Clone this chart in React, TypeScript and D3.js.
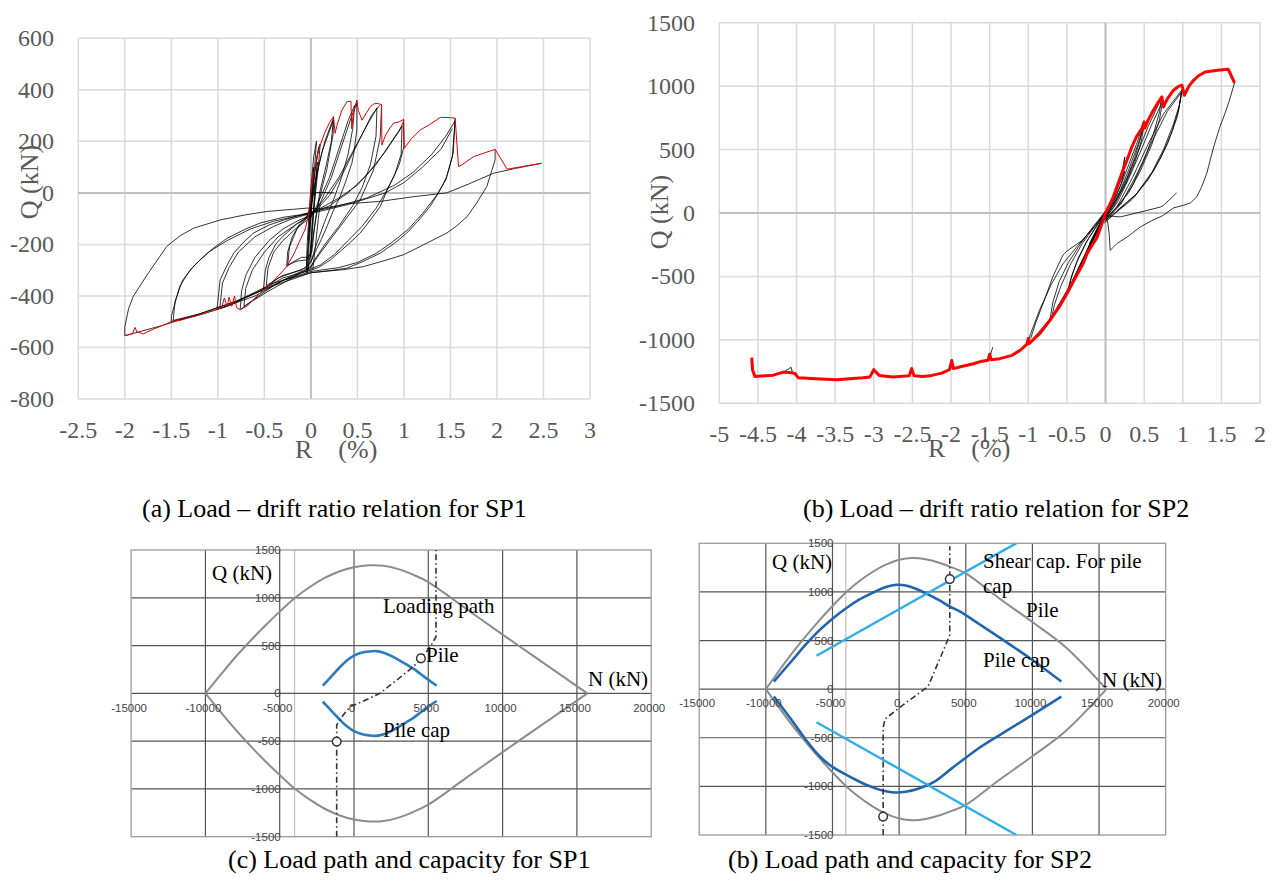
import React from 'react';
import * as d3 from 'd3';

type P = [number, number];

// ================= (a) SP1 load - drift ratio: [R (%), Q (kN)] =================
const sp1XTicks = [-2.5, -2, -1.5, -1, -0.5, 0, 0.5, 1, 1.5, 2, 2.5, 3];
const sp1YTicks = [-800, -600, -400, -200, 0, 200, 400, 600];

const sp1RedPos: P[] = [[0,0],[0.02,50],[0.05,110],[0.08,160],[0.1,185],[0.15,235],[0.2,272],[0.243,296],[0.26,231],[0.28,262],[0.33,318],[0.387,354],[0.43,356],[0.44,249],[0.455,310],[0.494,360],[0.51,320],[0.55,282],[0.6,312],[0.637,334],[0.68,346],[0.71,347],[0.76,343],[0.763,186],[0.8,222],[0.85,252],[0.888,270],[0.95,276],[0.996,285],[1.003,173],[1.08,210],[1.175,244],[1.28,266],[1.39,293],[1.5,292],[1.55,290],[1.587,102],[1.62,108],[1.75,141],[1.88,157],[1.98,169],[2.11,92],[2.3,104],[2.48,115]];
const sp1RedNeg: P[] = [[0,0],[-0.01,-40],[-0.03,-90],[-0.06,-140],[-0.115,-182],[-0.18,-235],[-0.26,-286],[-0.35,-322],[-0.42,-348],[-0.51,-376],[-0.6,-408],[-0.68,-438],[-0.76,-453],[-0.8,-446],[-0.82,-400],[-0.85,-440],[-0.88,-405],[-0.9,-442],[-0.93,-408],[-0.96,-445],[-1.01,-453],[-1.2,-474],[-1.4,-494],[-1.5,-499],[-1.55,-508],[-1.7,-530],[-1.8,-547],[-1.87,-540],[-1.89,-522],[-1.92,-548],[-2.0,-554]];

const sp1Elastic: P[][] = [
  [[-0.03,-300],[-0.02,-200],[0,-100],[0.02,0],[0.05,100],[0.08,170],[0.1,190]],
  [[0.1,190],[0.08,100],[0.05,0],[0.02,-100],[0,-200],[-0.02,-280],[-0.04,-310]],
  [[-0.04,-310],[-0.03,-220],[-0.01,-120],[0.01,-20],[0.04,80],[0.07,150],[0.09,180]],
  [[0,-250],[0.01,-150],[0.03,-50],[0.05,50],[0.07,120]],
  [[0.07,120],[0.05,20],[0.03,-80],[0.01,-180],[-0.01,-260]],
  [[-0.02,-150],[0,-50],[0.02,50],[0.03,100]],
  [[0.03,100],[0.01,0],[-0.01,-100],[-0.03,-180]],
  [[-0.05,-310],[-0.04,-200],[-0.02,-80],[0,20],[0.03,140],[0.06,200]],
  [[0.06,200],[0.04,100],[0.01,-20],[-0.02,-150],[-0.05,-300]],
  [[0,0],[0.1,2],[0.25,0]],
  [[0.02,-300],[0.05,-200],[0.08,-100],[0.1,-40]],
];
const sp1Cycles: P[][] = [
  [[0.243,296],[0.24,230],[0.2,150],[0.17,89],[0.12,20],[0.082,-40],[0.04,-130],[0.01,-200],[0,-233],[-0.03,-250],[-0.1,-250],[-0.2,-270],[-0.26,-286]],
  [[-0.26,-286],[-0.25,-230],[-0.2,-170],[-0.12,-120],[-0.05,-95],[0,-60],[0.03,0],[0.08,100],[0.15,200],[0.243,290]],
  [[0.24,280],[0.22,200],[0.16,100],[0.1,10],[0.05,-100],[0.01,-230],[-0.05,-260],[-0.15,-265],[-0.25,-280]],
  [[-0.25,-280],[-0.23,-210],[-0.15,-140],[-0.05,-100],[0,-50],[0.05,50],[0.12,160],[0.24,280]],
  [[0.494,360],[0.494,244],[0.46,150],[0.44,115],[0.38,50],[0.314,-14],[0.24,-70],[0.172,-131],[0.1,-190],[0.03,-240],[0.01,-260],[-0.05,-290],[-0.2,-310],[-0.35,-330],[-0.51,-376]],
  [[-0.51,-376],[-0.49,-300],[-0.45,-250],[-0.38,-200],[-0.3,-168],[-0.15,-120],[-0.05,-95],[0,-85],[0.05,-60],[0.1,-20],[0.2,60],[0.3,170],[0.4,280],[0.47,340]],
  [[0.47,340],[0.45,250],[0.4,150],[0.33,60],[0.25,-20],[0.15,-110],[0.05,-210],[0,-270],[-0.1,-300],[-0.3,-320],[-0.48,-360]],
  [[-0.48,-360],[-0.46,-290],[-0.4,-230],[-0.3,-185],[-0.15,-135],[0,-95],[0.1,-40],[0.22,60],[0.32,170],[0.44,300],[0.5,350]],
  [[0.76,343],[0.745,215],[0.673,89],[0.6,30],[0.53,-27],[0.42,-80],[0.314,-131],[0.2,-185],[0.1,-234],[0.03,-270],[0,-290],[-0.2,-320],[-0.4,-360],[-0.6,-410],[-0.76,-453]],
  [[-0.76,-453],[-0.745,-380],[-0.7,-320],[-0.6,-250],[-0.45,-185],[-0.3,-140],[-0.15,-110],[0,-85],[0.15,-20],[0.3,60],[0.45,160],[0.6,260],[0.71,330]],
  [[0.71,330],[0.7,220],[0.64,110],[0.55,20],[0.45,-50],[0.3,-130],[0.15,-200],[0.04,-260],[0,-285],[-0.2,-330],[-0.45,-380],[-0.72,-440]],
  [[-0.72,-440],[-0.7,-370],[-0.63,-300],[-0.5,-230],[-0.35,-170],[-0.15,-120],[0,-90],[0.2,-10],[0.35,80],[0.5,190],[0.65,300],[0.74,340]],
  [[0.996,285],[1.0,180],[0.95,110],[0.89,63],[0.82,10],[0.745,-53],[0.64,-105],[0.53,-156],[0.4,-200],[0.21,-260],[0.08,-290],[0,-300],[-0.3,-330],[-0.6,-390],[-0.85,-430],[-1.01,-453]],
  [[-1.01,-453],[-0.975,-337],[-0.9,-280],[-0.83,-234],[-0.72,-190],[-0.617,-156],[-0.45,-125],[-0.29,-105],[-0.15,-90],[-0.04,-80],[0.1,-60],[0.3,-20],[0.5,30],[0.7,110],[0.85,190],[0.98,260]],
  [[0.98,260],[0.97,150],[0.9,70],[0.8,0],[0.7,-60],[0.55,-130],[0.4,-185],[0.25,-240],[0.1,-280],[0,-295],[-0.3,-340],[-0.6,-400],[-0.98,-450]],
  [[-0.98,-450],[-0.95,-350],[-0.88,-290],[-0.78,-230],[-0.6,-170],[-0.4,-130],[-0.2,-100],[0,-80],[0.2,-50],[0.4,0],[0.6,70],[0.8,160],[0.95,240],[1.0,280]],
  [[1.55,290],[1.53,154],[1.46,63],[1.38,5],[1.28,-53],[1.15,-110],[1.03,-156],[0.9,-195],[0.745,-234],[0.55,-268],[0.387,-292],[0.2,-302],[0,-310],[-0.3,-340],[-0.6,-390],[-0.9,-440],[-1.2,-474],[-1.5,-499]],
  [[-1.5,-499],[-1.5,-479],[-1.41,-363],[-1.3,-300],[-1.19,-260],[-1.05,-215],[-0.9,-176],[-0.7,-140],[-0.545,-117],[-0.3,-95],[-0.115,-85],[0,-75],[0.3,-50],[0.6,-20],[0.9,30],[1.1,80],[1.3,150],[1.45,220],[1.55,280]],
  [[1.55,280],[1.52,140],[1.45,50],[1.35,-10],[1.2,-80],[1.05,-140],[0.88,-190],[0.7,-235],[0.5,-270],[0.3,-290],[0,-305],[-0.4,-350],[-0.8,-420],[-1.2,-470],[-1.48,-495]],
  [[-1.48,-495],[-1.46,-420],[-1.38,-340],[-1.25,-280],[-1.1,-230],[-0.9,-185],[-0.65,-140],[-0.4,-110],[-0.15,-90],[0,-80],[0.4,-45],[0.8,0],[1.0,40],[1.2,100],[1.4,170],[1.52,250]],
  [[1.98,169],[1.98,128],[1.89,24],[1.78,-40],[1.68,-92],[1.56,-130],[1.46,-156],[1.3,-185],[1.175,-208],[0.996,-240],[0.8,-262],[0.566,-286],[0.35,-298],[0.135,-305],[0,-310],[-0.4,-360],[-0.8,-420],[-1.2,-470],[-1.6,-515],[-2.0,-554]],
  [[-2.0,-554],[-2.0,-520],[-1.96,-450],[-1.91,-402],[-1.76,-318],[-1.55,-208],[-1.4,-165],[-1.26,-137],[-0.975,-105],[-0.7,-85],[-0.47,-72],[-0.2,-64],[-0.04,-59],[0.1,-62],[0.4,-42],[0.745,-33],[1.1,-15],[1.46,0],[1.7,35],[1.96,76],[2.2,95],[2.48,115]],
];

// ================= (b) SP2 load - drift ratio =================
const sp2XTicks = [-5, -4.5, -4, -3.5, -3, -2.5, -2, -1.5, -1, -0.5, 0, 0.5, 1, 1.5, 2];
const sp2YTicks = [-1500, -1000, -500, 0, 500, 1000, 1500];

const sp2RedPos: P[] = [[0,0],[0.05,60],[0.1,126],[0.15,210],[0.21,311],[0.28,420],[0.34,520],[0.4,600],[0.47,665],[0.5,718],[0.51,670],[0.55,730],[0.62,810],[0.68,870],[0.73,915],[0.75,836],[0.8,900],[0.88,968],[0.95,1000],[0.99,1007],[1.02,928],[1.08,1000],[1.14,1046],[1.2,1080],[1.29,1112],[1.45,1125],[1.59,1133],[1.67,1025]];
const sp2RedNeg: P[] = [[0,0],[-0.05,-90],[-0.11,-194],[-0.18,-260],[-0.24,-320],[-0.29,-399],[-0.4,-520],[-0.5,-636],[-0.6,-740],[-0.72,-846],[-0.85,-950],[-0.99,-1030],[-1.0,-990],[-1.02,-1035],[-1.1,-1080],[-1.21,-1122],[-1.37,-1148],[-1.48,-1156],[-1.5,-1112],[-1.52,-1160],[-1.6,-1168],[-1.71,-1188],[-1.85,-1208],[-1.97,-1227],[-1.99,-1162],[-2.02,-1235],[-2.12,-1262],[-2.25,-1280],[-2.36,-1288],[-2.48,-1282],[-2.51,-1227],[-2.54,-1282],[-2.75,-1293],[-2.93,-1280],[-3.0,-1235],[-3.05,-1292],[-3.14,-1298],[-3.48,-1314],[-3.75,-1306],[-3.98,-1298],[-4.02,-1265],[-4.06,-1260],[-4.17,-1254],[-4.3,-1278],[-4.54,-1288],[-4.57,-1235],[-4.58,-1140]];

const sp2Cycles: P[][] = [
  [[0,0],[0.05,50],[0.1,120],[0.18,230],[0.25,330]],
  [[0.25,330],[0.2,230],[0.12,120],[0.05,30],[0,-20]],
  [[0.1,100],[0.15,200],[0.22,350],[0.25,442],[0.24,380],[0.2,280],[0.1,100]],
  [[-0.02,-30],[0.1,80],[0.2,220],[0.3,380],[0.4,540],[0.48,680]],
  [[0.48,680],[0.45,580],[0.38,440],[0.28,280],[0.15,120],[0.05,20],[-0.02,-40]],
  [[-0.03,-50],[0.08,40],[0.2,190],[0.3,340],[0.42,540],[0.5,690]],
  [[0.5,690],[0.46,560],[0.38,400],[0.26,230],[0.12,80],[0,-30]],
  [[-0.04,-60],[0.1,40],[0.25,230],[0.4,450],[0.55,680],[0.72,900]],
  [[0.72,900],[0.7,800],[0.62,620],[0.5,420],[0.35,220],[0.2,80],[0.05,-20],[-0.03,-60]],
  [[-0.03,-60],[0.15,80],[0.3,270],[0.45,480],[0.6,700],[0.74,880]],
  [[0.74,880],[0.7,740],[0.6,540],[0.45,330],[0.3,160],[0.12,30],[0,-40]],
  [[-0.05,-80],[0.15,50],[0.35,280],[0.55,540],[0.75,780],[0.9,900],[0.99,970]],
  [[0.99,970],[0.96,860],[0.88,700],[0.75,500],[0.6,320],[0.4,150],[0.2,40],[0,-60]],
  [[0,-60],[0.2,70],[0.4,300],[0.6,560],[0.8,800],[0.98,950]],
  [[0.98,950],[0.95,820],[0.86,640],[0.72,440],[0.55,260],[0.35,110],[0.15,10],[-0.02,-80]],
  [[0.99,960],[0.93,760],[0.8,540],[0.62,330],[0.4,150],[0.15,20]],
  [[0,-20],[0.19,-31],[0.4,0],[0.6,30],[0.71,47],[0.75,60],[0.92,158]],
  [[1.67,1025],[1.6,880],[1.55,790],[1.48,678],[1.4,520],[1.31,311],[1.24,200],[1.18,126],[1.1,80],[1.01,61],[0.88,40],[0.75,-18],[0.6,-60],[0.45,-110],[0.28,-189],[0.15,-240],[0.06,-294],[0.05,-180],[0.03,-80],[0,0]],
  [[0,0],[-0.1,-120],[-0.24,-320]],
  [[-0.24,-320],[-0.2,-230],[-0.1,-110],[0,0]],
  [[0.02,20],[-0.15,-180],[-0.3,-380],[-0.45,-570],[-0.5,-640]],
  [[-0.5,-640],[-0.46,-540],[-0.38,-400],[-0.25,-230],[-0.1,-90],[0.02,10]],
  [[0.02,10],[-0.12,-170],[-0.28,-370],[-0.42,-540],[-0.48,-620]],
  [[-0.48,-620],[-0.44,-500],[-0.35,-350],[-0.22,-200],[-0.08,-70],[0.03,20]],
  [[0.03,20],[-0.15,-200],[-0.35,-450],[-0.55,-680],[-0.7,-830]],
  [[-0.7,-830],[-0.66,-720],[-0.58,-580],[-0.45,-400],[-0.3,-240],[-0.12,-90],[0.03,30]],
  [[0.03,30],[-0.2,-240],[-0.4,-500],[-0.6,-740],[-0.72,-840]],
  [[-0.72,-840],[-0.68,-700],[-0.6,-540],[-0.48,-390],[-0.32,-240],[-0.15,-100],[0.02,30]],
  [[0.04,40],[-0.2,-250],[-0.45,-560],[-0.7,-820],[-0.95,-1000]],
  [[-0.97,-990],[-0.9,-860],[-0.8,-700],[-0.68,-500],[-0.55,-330],[-0.5,-300],[-0.3,-215],[-0.12,-90],[0.02,30]],
  [[-1.0,-1000],[-0.95,-920],[-0.85,-760],[-0.7,-560],[-0.55,-400],[-0.35,-250],[-0.15,-110],[0.03,20]],
  [[-1.5,-1150],[-1.48,-1100],[-1.46,-1057]],
  [[-4.17,-1254],[-4.07,-1216],[-4.05,-1262]],
];

// ================= (c)/(d) N-Q capacity: [N (kN), Q (kN)] =================
const nTicks = [-15000, -10000, -5000, 0, 5000, 10000, 15000, 20000];
const qTicks = [-1500, -1000, -500, 0, 500, 1000, 1500];

const cEnvN = [-10000,-9000,-8000,-7000,-6000,-5000,-4000,-3000,-2000,-1000,0,1000,2000,3000,4000,5000,7500,10000,12500,15700];
const cEnvQ = [0,190,375,545,705,855,995,1110,1205,1275,1320,1340,1335,1300,1240,1165,890,615,345,0];
const cPileN = [-2100,-1500,-1000,-500,0,500,1000,1500,2000,2500,3000,3500,4000,4500,5000,5560];
const cPileQ = [80,180,265,340,395,425,438,442,425,392,350,305,258,200,142,80];
const cCapQ = [-88,-185,-268,-342,-396,-426,-440,-445,-428,-395,-352,-305,-256,-198,-140,-80];
const cPathN = [-1165,-1165,-1165,-720,-270,500,1750,2870,3990,4500,5100,5520,5520];
const cPathQ = [-1500,-505,-330,-227,-140,-90,0,139,278,366,480,592,1500];
const cMarkN = [-1165, 4500];
const cMarkQ = [-505, 366];

const dEnvN = [-10000,-9000,-8000,-7000,-6000,-5000,-4000,-3000,-2000,-1000,0,1000,2000,3000,4000,5000,7500,10000,12500,15550];
const dEnvQ = [0,190,375,545,705,855,995,1110,1205,1280,1330,1348,1335,1300,1250,1190,935,690,430,0];
const dPileN = [-9400,-8000,-7000,-5950,-5000,-3950,-3000,-2000,-1000,-200,500,1300,2000,3000,3800,4550,6000,7800,10000,12170];
const dPileQ = [78,300,460,610,725,835,920,990,1050,1073,1065,1030,985,915,850,800,670,507,300,78];
const dCapN = [-9400,-8000,-7000,-5950,-5000,-3950,-3000,-2000,-1000,-200,500,1300,2550,4000,6050,7800,10000,12170];
const dCapQ = [-76,-330,-520,-693,-800,-882,-950,-1010,-1050,-1063,-1055,-1030,-960,-810,-600,-450,-265,-76];
const dShearN = [-6200, 8800];
const dShearUpQ = [343, 1502];
const dShearLoQ = [-340, -1500];
const dPathN = [-1200,-1200,-1200,-1070,300,2170,3550,3800,3800,3800];
const dPathQ = [-1500,-1311,-400,-308,-161,27,473,559,1132,1470];
const dMarkN = [3800, -1200];
const dMarkQ = [1132, -1311];

const zip = (a: number[], b: number[]): P[] => a.map((v, i) => [v, b[i]]);

const SERIF = '"Liberation Serif", "Times New Roman", serif';
const SERIF_CJK = '"Liberation Serif", "Noto Sans CJK JP", serif';
const SANS = '"Liberation Sans", Arial, sans-serif';

type Scale = d3.ScaleLinear<number, number>;

function TopPanel(props: {
  xs: Scale; ys: Scale; xTicks: number[]; yTicks: number[];
  black: P[][]; red: P[][]; redColor: string; redWidth: number;
  yLabelRight: number; xLabelBase: number; qPos: P; rPos: P;
}) {
  const { xs, ys, xTicks, yTicks } = props;
  const x0 = xs(xTicks[0]), x1 = xs(xTicks[xTicks.length - 1]);
  const y0 = ys(yTicks[0]), y1 = ys(yTicks[yTicks.length - 1]);
  const line = d3.line<P>().x(d => xs(d[0])).y(d => ys(d[1]));
  return (
    <g>
      {xTicks.map(t => (
        <line key={'vx' + t} x1={xs(t)} x2={xs(t)} y1={y0} y2={y1} stroke="#d9d9d9" strokeWidth={1.5} />
      ))}
      {yTicks.map(t => (
        <line key={'hy' + t} x1={x0} x2={x1} y1={ys(t)} y2={ys(t)} stroke="#d9d9d9" strokeWidth={1.5} />
      ))}
      <line x1={xs(0)} x2={xs(0)} y1={y0} y2={y1} stroke="#bfbfbf" strokeWidth={2} />
      <line x1={x0} x2={x1} y1={ys(0)} y2={ys(0)} stroke="#bfbfbf" strokeWidth={2} />
      {props.black.map((c, i) => (
        <path key={'b' + i} d={line(c) || ''} fill="none" stroke="#000" strokeWidth={0.8} strokeLinejoin="round" />
      ))}
      {props.red.map((c, i) => (
        <path key={'r' + i} d={line(c) || ''} fill="none" stroke={props.redColor} strokeWidth={props.redWidth} strokeLinejoin="round" />
      ))}
      {xTicks.map(t => (
        <text key={'tx' + t} x={xs(t)} y={props.xLabelBase} textAnchor="middle" fontFamily={SERIF} fontSize={24} fill="#595959">{String(t)}</text>
      ))}
      {yTicks.map(t => (
        <text key={'ty' + t} x={props.yLabelRight} y={ys(t) + 8} textAnchor="end" fontFamily={SERIF} fontSize={24} fill="#595959">{String(t)}</text>
      ))}
      <text transform={`translate(${props.qPos[0]},${props.qPos[1]}) rotate(-90)`} textAnchor="middle" fontFamily={SERIF} fontSize={26} fill="#595959">Q (kN)</text>
      <text x={props.rPos[0]} y={props.rPos[1]} fontFamily={SERIF_CJK} fontSize={26} fill="#595959">R　(%)</text>
    </g>
  );
}

function BottomPanel(props: {
  id: string; xs: Scale; ys: Scale; children?: React.ReactNode; xLabelBase: number;
}) {
  const { xs, ys } = props;
  const x0 = xs(nTicks[0]), x1 = xs(nTicks[nTicks.length - 1]);
  const y0 = ys(qTicks[0]), y1 = ys(qTicks[qTicks.length - 1]);
  return (
    <g>
      <defs>
        <clipPath id={props.id}>
          <rect x={x0} y={y1} width={x1 - x0} height={y0 - y1} />
        </clipPath>
      </defs>
      <line x1={xs(-4000)} x2={xs(-4000)} y1={y0} y2={y1} stroke="#c4c4c4" strokeWidth={1.3} />
      {nTicks.slice(1, -1).map(t => (
        <line key={'vx' + t} x1={xs(t)} x2={xs(t)} y1={y0} y2={y1} stroke="#555" strokeWidth={1.2} />
      ))}
      {qTicks.slice(1, -1).map(t => (
        <line key={'hy' + t} x1={x0} x2={x1} y1={ys(t)} y2={ys(t)} stroke="#555" strokeWidth={1.2} />
      ))}
      <rect x={x0} y={y1} width={x1 - x0} height={y0 - y1} fill="none" stroke="#9a9a9a" strokeWidth={1.3} />
      <g clipPath={`url(#${props.id})`}>{props.children}</g>
      {nTicks.map(t => (
        <text key={'tx' + t} x={xs(t) - 2} y={props.xLabelBase} textAnchor="middle" fontFamily={SANS} fontSize={11.5} fill="#444">{String(t)}</text>
      ))}
      {qTicks.map(t => (
        <text key={'ty' + t} x={xs(-5000) + 1} y={ys(t) + 4} textAnchor="end" fontFamily={SANS} fontSize={11.5} fill="#444">{String(t)}</text>
      ))}
    </g>
  );
}

export default function App() {
  const xA = d3.scaleLinear().domain([-2.5, 3]).range([78.3, 590]);
  const yA = d3.scaleLinear().domain([-800, 600]).range([399, 38.3]);
  const xB = d3.scaleLinear().domain([-5, 2]).range([719.3, 1260]);
  const yB = d3.scaleLinear().domain([-1500, 1500]).range([403.3, 22.7]);
  const xC = d3.scaleLinear().domain([-15000, 20000]).range([131.1, 651.2]);
  const yC = d3.scaleLinear().domain([-1500, 1500]).range([836.7, 550]);
  const xD = d3.scaleLinear().domain([-15000, 20000]).range([699.2, 1165.7]);
  const yD = d3.scaleLinear().domain([-1500, 1500]).range([835, 543.3]);

  const smooth = (xs: Scale, ys: Scale) =>
    d3.line<P>().x(d => xs(d[0])).y(d => ys(d[1])).curve(d3.curveCatmullRom.alpha(0.5));
  const straight = (xs: Scale, ys: Scale) => d3.line<P>().x(d => xs(d[0])).y(d => ys(d[1]));
  const lc = smooth(xC, yC);
  const ld = smooth(xD, yD);
  const sc = straight(xC, yC);
  const sd = straight(xD, yD);

  const cEnvUp = zip(cEnvN, cEnvQ);
  const cEnvLo = zip(cEnvN, cEnvQ.map(q => -q));
  const dEnvUp = zip(dEnvN, dEnvQ);
  const dEnvLo = zip(dEnvN, dEnvQ.map(q => -q));

  const gray = '#8c8c8c';
  const pathStyle = { fill: 'none', stroke: '#333', strokeWidth: 1.6, strokeDasharray: '6 3 1.5 3' };

  return (
    <svg width={1274} height={880} style={{ position: 'absolute', left: 0, top: 0, background: '#fff' }}>
      <rect x={0} y={0} width={1274} height={880} fill="#fff" />
      <TopPanel xs={xA} ys={yA} xTicks={sp1XTicks} yTicks={sp1YTicks}
        black={[...sp1Elastic, ...sp1Cycles]} red={[sp1RedPos, sp1RedNeg]} redColor="#e00000" redWidth={1}
        yLabelRight={54} xLabelBase={438} qPos={[38, 182]} rPos={[295, 458]} />
      <TopPanel xs={xB} ys={yB} xTicks={sp2XTicks} yTicks={sp2YTicks}
        black={sp2Cycles} red={[sp2RedPos, sp2RedNeg]} redColor="#ff0000" redWidth={3}
        yLabelRight={695} xLabelBase={442} qPos={[668, 212]} rPos={[928, 457]} />

      <BottomPanel id="clipC" xs={xC} ys={yC} xLabelBase={711.5}>
        <path d={lc(cEnvUp) || ''} fill="none" stroke={gray} strokeWidth={2} />
        <path d={lc(cEnvLo) || ''} fill="none" stroke={gray} strokeWidth={2} />
        <path d={lc(zip(cPileN, cPileQ)) || ''} fill="none" stroke="#2b7bbd" strokeWidth={2.6} />
        <path d={lc(zip(cPileN, cCapQ)) || ''} fill="none" stroke="#2b7bbd" strokeWidth={2.6} />
        <path d={sc(zip(cPathN, cPathQ)) || ''} style={pathStyle} />
        {cMarkN.map((n, i) => (
          <circle key={'cm' + i} cx={xC(n)} cy={yC(cMarkQ[i])} r={4.3} fill="#fff" stroke="#333" strokeWidth={1.5} />
        ))}
      </BottomPanel>
      <BottomPanel id="clipD" xs={xD} ys={yD} xLabelBase={707}>
        <path d={ld(dEnvUp) || ''} fill="none" stroke={gray} strokeWidth={2} />
        <path d={ld(dEnvLo) || ''} fill="none" stroke={gray} strokeWidth={2} />
        <path d={ld(zip(dPileN, dPileQ)) || ''} fill="none" stroke="#2166ac" strokeWidth={2.6} />
        <path d={ld(zip(dCapN, dCapQ)) || ''} fill="none" stroke="#2166ac" strokeWidth={2.6} />
        <path d={sd(zip(dShearN, dShearUpQ)) || ''} fill="none" stroke="#2eaee6" strokeWidth={2.4} />
        <path d={sd(zip(dShearN, dShearLoQ)) || ''} fill="none" stroke="#2eaee6" strokeWidth={2.4} />
        <path d={sd(zip(dPathN, dPathQ)) || ''} style={pathStyle} />
        {dMarkN.map((n, i) => (
          <circle key={'dm' + i} cx={xD(n)} cy={yD(dMarkQ[i])} r={4.3} fill="#fff" stroke="#333" strokeWidth={1.5} />
        ))}
      </BottomPanel>

      <g fontFamily={SERIF} fontSize={21} fill="#000">
        <text x={212} y={580}>Q (kN)</text>
        <text x={383} y={613}>Loading path</text>
        <text x={426} y={662}>Pile</text>
        <text x={588} y={686}>N (kN)</text>
        <text x={383} y={737}>Pile cap</text>
        <text x={772} y={569}>Q (kN)</text>
        <text x={983} y={568}>Shear cap. For pile</text>
        <text x={983} y={593}>cap</text>
        <text x={1026} y={617}>Pile</text>
        <text x={983} y={667}>Pile cap</text>
        <text x={1102} y={687}>N (kN)</text>
      </g>

      <g fontFamily={SERIF} fontSize={26} fill="#000">
        <text x={142} y={517}>(a) Load – drift ratio relation for SP1</text>
        <text x={803} y={517}>(b) Load – drift ratio relation for SP2</text>
        <text x={228} y={868}>(c) Load path and capacity for SP1</text>
        <text x={728} y={868}>(b) Load path and capacity for SP2</text>
      </g>
    </svg>
  );
}
